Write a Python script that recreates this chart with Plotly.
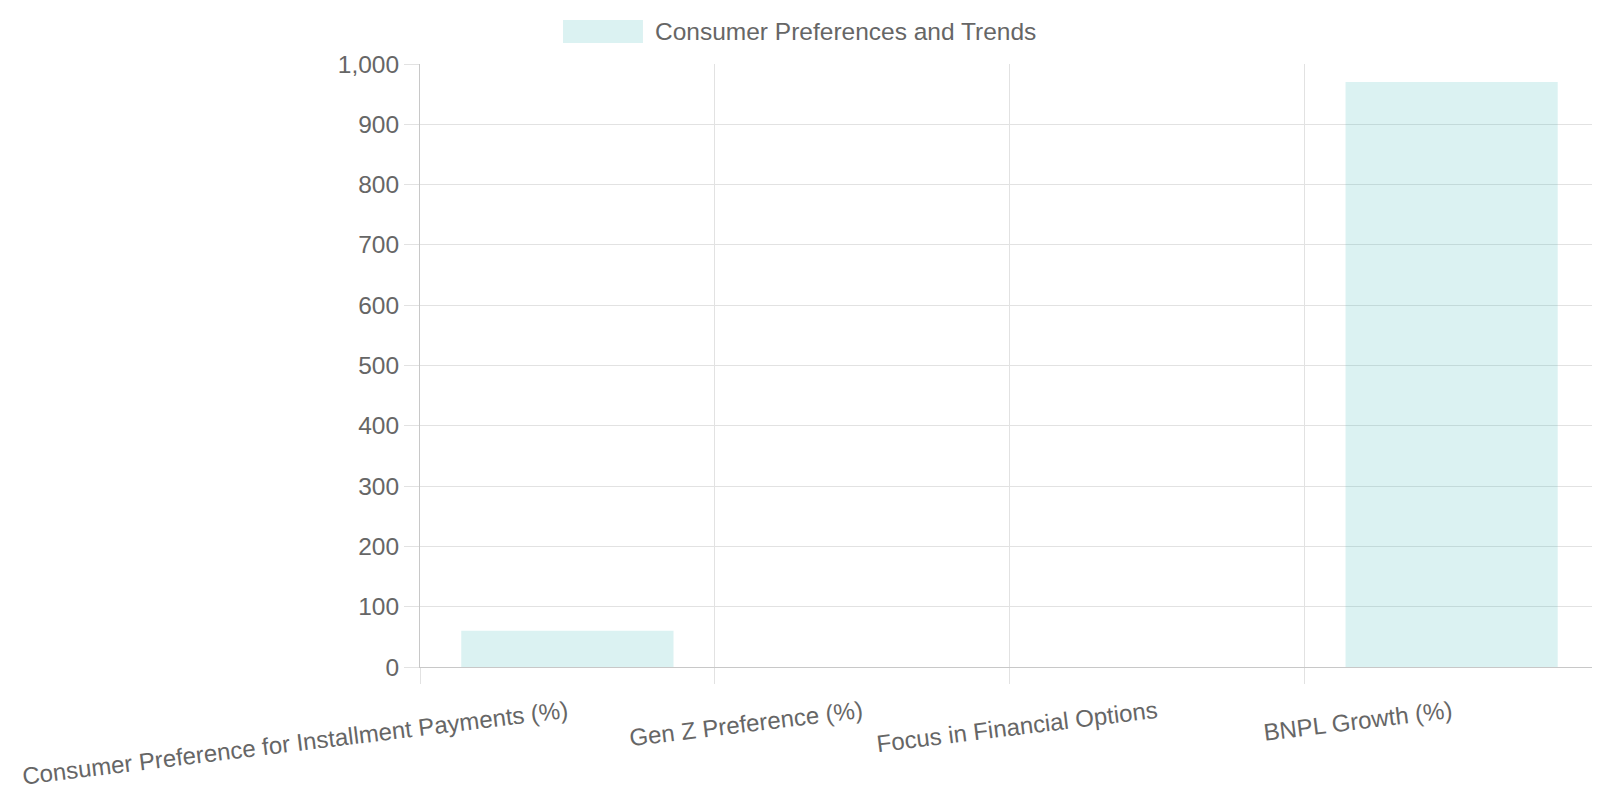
import plotly.graph_objects as go

categories = [
    "Consumer Preference for Installment Payments (%)",
    "Gen Z Preference (%)",
    "Focus in Financial Options",
    "BNPL Growth (%)",
]
values = [60, 0, 0, 970]
series_name = "Consumer Preferences and Trends"

FONT = "Liberation Sans, Arial, Helvetica, sans-serif"
FSIZE = 24.5
bar_fill = "rgba(75,192,192,0.2)"

fig = go.Figure(go.Bar(
    x=categories,
    y=values,
    name=series_name,
    marker=dict(color=bar_fill, line=dict(width=0)),
    showlegend=False,
))

# page body has an 8px margin, so the figure is 8px smaller each way
fig.update_layout(
    width=1592,
    height=792,
    margin=dict(l=412, r=1, t=56, b=133),
    paper_bgcolor="white",
    plot_bgcolor="white",
    bargap=0.28,
    font=dict(family=FONT, size=FSIZE, color="#666666"),
    xaxis=dict(
        type="category",
        tickson="boundaries",
        ticks="outside",
        ticklen=16,
        tickcolor="#e2e2e2",
        showgrid=True,
        gridcolor="#e2e2e2",
        showline=True,
        linecolor="#c8c8c8",
        tickangle=-7,
        ticklabelstandoff=21,
        tickfont=dict(size=24, color="#666666"),
    ),
    yaxis=dict(
        range=[0, 1000],
        dtick=100,
        tickformat=",",
        ticks="outside",
        ticklen=15,
        tickcolor="#e2e2e2",
        showgrid=True,
        gridcolor="#e2e2e2",
        zeroline=False,
        showline=True,
        linecolor="#c8c8c8",
        tickfont=dict(size=FSIZE, color="#666666"),
    ),
    # legend drawn by hand to get the wide swatch
    shapes=[dict(
        type="rect", xref="paper", yref="paper",
        x0=0.1213, x1=0.1891, y0=1.0348, y1=1.073,
        fillcolor=bar_fill, line=dict(width=0),
    )],
    annotations=[dict(
        text=series_name, xref="paper", yref="paper",
        x=0.1977, y=1.054, xanchor="left", yanchor="middle",
        showarrow=False, font=dict(size=FSIZE, color="#666666"),
    )],
)

fig.write_html("out.html")
